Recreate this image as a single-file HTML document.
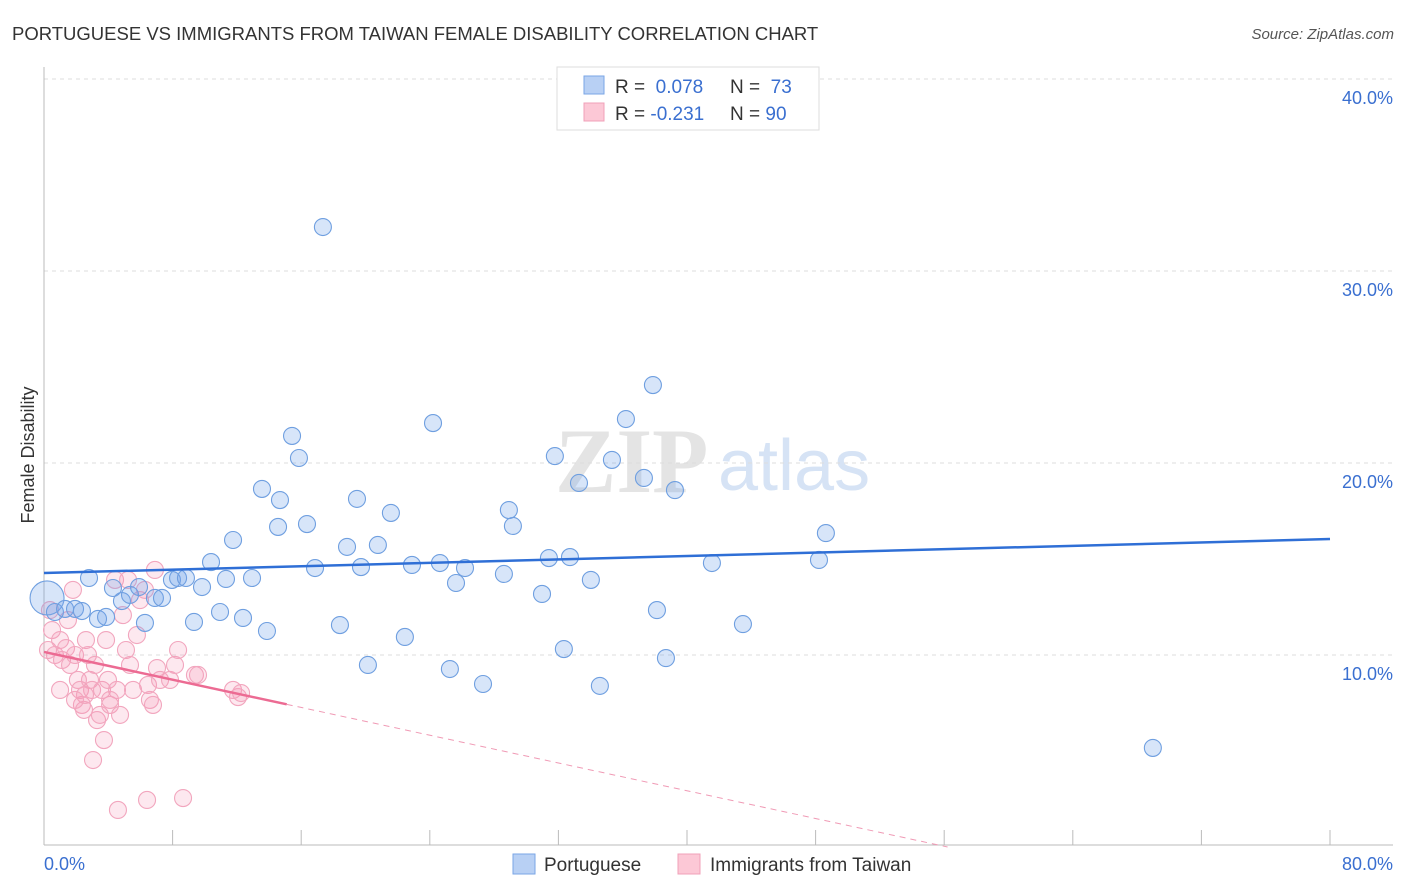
<!DOCTYPE html>
<html><head><meta charset="utf-8"><style>
body{margin:0;background:#fff;font-family:"Liberation Sans",sans-serif;}
svg{display:block}
</style></head><body>
<svg id="chart" width="1406" height="892" xmlns="http://www.w3.org/2000/svg">
<text x="12" y="40" font-size="18.5" fill="#333">PORTUGUESE VS IMMIGRANTS FROM TAIWAN FEMALE DISABILITY CORRELATION CHART</text>
<text x="1394" y="39" font-size="15" fill="#555" font-style="italic" text-anchor="end">Source: ZipAtlas.com</text>
<text x="555" y="492" font-size="92" fill="#e4e4e4" font-family="Liberation Serif" font-weight="bold">ZIP</text>
<text x="718" y="490" font-size="72" fill="#d6e3f5">atlas</text>
<g id="grid"></g>
<g id="axes"></g>
<g id="pts"></g>
<g id="lines"></g>
<text transform="translate(34,455) rotate(-90)" font-size="18" fill="#333" text-anchor="middle">Female Disability</text>
<g>
<rect x="557" y="67" width="262" height="63" fill="#fff" stroke="#ddd"/>
<rect x="584" y="76" width="20" height="18" fill="#b8d0f4" stroke="#7aa6e6"/>
<rect x="584" y="103" width="20" height="18" fill="#fcc8d6" stroke="#f0a0b8"/>
<text x="615" y="93" font-size="19" fill="#333">R = <tspan fill="#3a6fd0">&#160;0.078</tspan></text>
<text x="730" y="93" font-size="19" fill="#333">N = <tspan fill="#3a6fd0">&#160;73</tspan></text>
<text x="615" y="120" font-size="19" fill="#333">R = <tspan fill="#3a6fd0">-0.231</tspan></text>
<text x="730" y="120" font-size="19" fill="#333">N = <tspan fill="#3a6fd0">90</tspan></text>
</g>
<g>
<rect x="513" y="854" width="22" height="20" fill="#b8d0f4" stroke="#7aa6e6"/>
<text x="544" y="871" font-size="19" fill="#333">Portuguese</text>
<rect x="678" y="854" width="22" height="20" fill="#fcc8d6" stroke="#f0a0b8"/>
<text x="710" y="871" font-size="19" fill="#333">Immigrants from Taiwan</text>
</g>
</svg>
<script>
const blueX=[0.19,0.68,1.31,1.93,2.36,2.80,3.36,3.86,4.29,4.85,5.35,5.91,6.28,6.90,7.34,7.96,8.34,8.83,9.33,9.83,10.39,10.95,11.32,11.76,12.38,12.94,13.56,13.87,14.56,14.68,15.43,15.86,16.36,16.86,17.35,18.41,18.85,19.72,19.47,20.15,20.77,21.58,22.45,22.89,24.20,24.63,25.25,25.63,26.19,27.31,28.61,28.92,29.17,30.98,31.41,31.78,32.34,32.72,33.28,34.02,34.58,35.33,36.20,37.32,37.88,38.13,38.69,39.25,41.55,43.48,48.21,48.64,68.98];
const blueY=[12.97,12.24,12.40,12.40,12.29,14.01,11.88,11.98,13.49,12.81,13.13,13.54,11.67,12.97,12.97,13.91,14.01,14.01,11.72,13.54,14.84,12.24,13.96,15.99,11.93,14.01,18.65,11.25,16.67,18.07,21.41,20.26,16.82,14.53,32.29,11.56,15.63,14.58,18.13,9.48,15.73,17.40,10.94,14.69,22.08,14.79,9.27,13.75,14.53,8.49,14.22,17.55,16.72,13.18,15.05,20.36,10.31,15.10,18.96,13.91,8.39,20.16,22.29,19.22,24.06,12.34,9.84,18.59,14.79,11.61,14.95,16.35,5.16];
const pinkX=[0.37,0.50,0.25,0.68,1.0,1.12,1.37,1.62,1.80,1.93,2.11,2.24,2.36,2.49,2.61,2.74,2.86,2.99,3.05,3.17,3.30,3.48,3.61,3.73,3.86,3.98,4.11,4.42,4.54,4.73,4.60,4.91,5.10,5.35,5.54,5.78,5.97,6.28,6.47,6.59,6.78,6.90,7.03,7.22,6.41,7.84,8.15,8.34,8.65,9.39,9.58,11.76,12.07,12.26,5.23,1.49,2.55,4.11,1.93,1.0];
const pinkY=[12.34,11.30,10.26,10.0,10.78,9.74,10.36,9.48,13.39,10.0,8.70,8.18,7.40,7.14,10.78,10.0,8.70,8.18,4.53,9.48,6.61,6.88,8.18,5.57,10.78,8.70,7.40,13.91,8.18,6.88,1.93,12.08,10.26,9.48,8.18,11.04,12.86,13.39,8.44,7.66,7.40,14.43,9.32,8.70,2.45,8.70,9.48,10.26,2.55,8.96,8.96,8.18,7.81,8.02,13.91,11.82,7.92,7.66,7.66,8.18];
const blueTrend=[14.27,16.04];
const pinkTrend=[10.16,-4.3];
const pinkSolidEnd=15.1;
const yTicks=[10,20,30,40];
const yTickLabels=["10.0%","20.0%","30.0%","40.0%"];
const xTicks=[0,8,16,24,32,40,48,56,64,72,80];
const NS="http://www.w3.org/2000/svg";
const sx=v=>44+v/80*1286, sy=v=>847-v*19.2;
function mk(tag,at,par){const e=document.createElementNS(NS,tag);for(const k in at)e.setAttribute(k,at[k]);document.getElementById(par).appendChild(e);return e;}
yTicks.forEach((t,i)=>{
 const g=mk('line',{x1:44,x2:1393,y1:sy(t),y2:sy(t),stroke:'#ddd','stroke-dasharray':'4,4'},'grid');
 
 
 const l=mk('text',{x:1393,y:sy(t)+25,'font-size':18,fill:'#3a6fd0','text-anchor':'end'},'grid');
 l.textContent=yTickLabels[i];
 
 
});
const topGrid=mk('line',{x1:44,x2:1393,y1:79,y2:79,stroke:'#ddd','stroke-dasharray':'4,4'},'grid');


const xa=mk('line',{x1:44,x2:1393,y1:845,y2:845,stroke:'#bbb'},'axes');


const ya=mk('line',{x1:44,x2:44,y1:67,y2:845,stroke:'#bbb'},'axes');


xTicks.forEach(t=>{const e=mk('line',{x1:sx(t),x2:sx(t),y1:830,y2:845,stroke:'#bbb'},'axes');
 
 });
const xl0=mk('text',{x:44,y:870,'font-size':18,fill:'#3a6fd0'},'axes');xl0.textContent='0.0%';


const xl1=mk('text',{x:1393,y:870,'font-size':18,fill:'#3a6fd0','text-anchor':'end'},'axes');xl1.textContent='80.0%';


pinkX.forEach((x,i)=>{const c=mk('circle',{cx:sx(x),cy:sy(pinkY[i]),r:8.5,fill:'rgba(244,150,180,0.22)',stroke:'#f2a6be','stroke-width':1.1},'pts');
 
 });
blueX.forEach((x,i)=>{const c=mk('circle',{cx:sx(x),cy:sy(blueY[i]),r:i==0?17:8.5,fill:'rgba(110,160,235,0.28)',stroke:'#6f9fe0','stroke-width':1.1},'pts');
 
 });
const bl=mk('line',{x1:sx(0),y1:sy(blueTrend[0]),x2:sx(80),y2:sy(blueTrend[1]),stroke:'#2f6fd6','stroke-width':2.5},'lines');


const pAt=x=>pinkTrend[0]+(pinkTrend[1]-pinkTrend[0])*x/80;
const ps=mk('line',{x1:sx(0),y1:sy(pAt(0)),x2:sx(pinkSolidEnd),y2:sy(pAt(pinkSolidEnd)),stroke:'#ec6b93','stroke-width':2.5},'lines');


const xz=pinkTrend[0]/(pinkTrend[0]-pinkTrend[1])*80;
const pd=mk('line',{x1:sx(pinkSolidEnd),y1:sy(pAt(pinkSolidEnd)),x2:sx(xz),y2:sy(0),stroke:'#f09ab5','stroke-width':1,'stroke-dasharray':'6,5'},'lines');


</script>
</body></html>
